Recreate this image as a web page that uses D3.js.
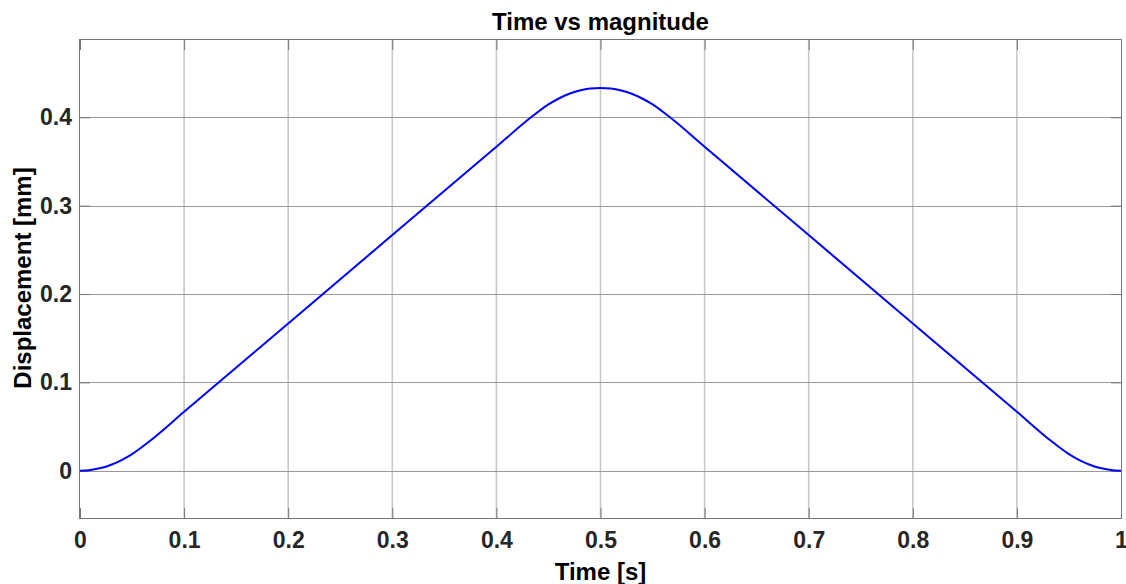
<!DOCTYPE html>
<html>
<head>
<meta charset="utf-8">
<script src="https://cdn.jsdelivr.net/npm/d3@7"></script>
<style>
    body { margin: 0; background: white; }
    text { font-family: Arial, "Liberation Sans", sans-serif; font-weight: bold; fill: #262626; }
</style>
</head>
<body>
<div id="chart"></div>
<script>
// Data
//
var timeValues = [
    0, 0.01, 0.02, 0.03, 0.04, 0.05, 0.0667, 0.1, 0.2, 0.3, 0.4, 0.4333,
    0.45, 0.46, 0.47, 0.48, 0.49, 0.5, 0.51, 0.52, 0.53, 0.54, 0.55,
    0.5667, 0.6, 0.7, 0.8, 0.9, 0.9333, 0.95, 0.96, 0.97, 0.98, 0.99, 1
];
var dispValues = [
    0, 0.0008, 0.003, 0.0068, 0.012, 0.0188, 0.0333, 0.0667, 0.1667, 0.2667, 0.3667, 0.4,
    0.4146, 0.4213, 0.4266, 0.4303, 0.4326, 0.4333, 0.4326, 0.4303, 0.4266, 0.4213, 0.4146,
    0.4, 0.3667, 0.2667, 0.1667, 0.0667, 0.0333, 0.0188, 0.012, 0.0068, 0.003, 0.0008, 0
];
var xTicks = [0, 0.1, 0.2, 0.3, 0.4, 0.5, 0.6, 0.7, 0.8, 0.9, 1];
var yTicks = [0, 0.1, 0.2, 0.3, 0.4];
var xDomain = [0, 1];
var yDomain = [-0.0535, 0.4875];

var svg_width  = 1126;
var svg_height = 584;

var x_box_min = 80;
var x_box_max = 1121;
var y_box_min = 40;
var y_box_max = 518;

var svg = d3.select("#chart").append("svg")
    .attr("width", svg_width)
    .attr("height", svg_height);

var x = d3.scaleLinear().domain(xDomain).range([x_box_min, x_box_max]);
var y = d3.scaleLinear().domain(yDomain).range([y_box_max, y_box_min]);

// Grid
//
svg.append("g").selectAll("line")
    .data(xTicks.slice(1, -1))
    .join("line")
    .attr("x1", d => x(d)).attr("x2", d => x(d))
    .attr("y1", y_box_min).attr("y2", y_box_max)
    .attr("stroke", "#c8c8c8")
    .attr("stroke-width", 1.6);

svg.append("g").selectAll("line")
    .data(yTicks)
    .join("line")
    .attr("x1", x_box_min).attr("x2", x_box_max)
    .attr("y1", d => Math.round(y(d)) + 0.5).attr("y2", d => Math.round(y(d)) + 0.5)
    .attr("stroke", "#999999")
    .attr("stroke-width", 1);

// Axes with inner ticks
//
var xAxisB = d3.axisBottom(x).tickValues(xTicks).tickSize(-10).tickPadding(14).tickFormat(d3.format("~g"));
var xAxisT = d3.axisTop(x).tickValues(xTicks).tickSize(-10).tickFormat("");
var yAxisL = d3.axisLeft(y).tickValues(yTicks).tickSize(-10).tickPadding(8).tickFormat(d3.format("~g"));
var yAxisR = d3.axisRight(y).tickValues(yTicks).tickSize(-10).tickFormat("");

function styleAxis(g) {
    g.selectAll(".domain").remove();
    g.selectAll(".tick line").attr("stroke", "#777777");
    g.selectAll(".tick text")
        .style("font-size", "23px")
        .style("font-family", "Arial, 'Liberation Sans', sans-serif")
        .style("font-weight", "bold")
        .attr("fill", "#262626");
}

svg.append("g").attr("transform", `translate(0,${y_box_max})`).call(xAxisB).call(styleAxis);
svg.append("g").attr("transform", `translate(0,${y_box_min})`).call(xAxisT).call(styleAxis);
svg.append("g").attr("transform", `translate(${x_box_min},0)`).call(yAxisL).call(styleAxis);
svg.append("g").attr("transform", `translate(${x_box_max},0)`).call(yAxisR).call(styleAxis);

// Box
//
svg.append("rect")
    .attr("x", x_box_min - 0.5)
    .attr("y", y_box_min - 0.5)
    .attr("width", x_box_max - x_box_min + 1)
    .attr("height", y_box_max - y_box_min + 1)
    .attr("fill", "none")
    .attr("stroke", "#777777")
    .attr("stroke-width", 1);

// Curve
//
var points = timeValues.map((t, i) => [t, dispValues[i]]);
var line = d3.line()
    .x(d => x(d[0]))
    .y(d => y(d[1]))
    .curve(d3.curveMonotoneX);

svg.append("path")
    .datum(points)
    .attr("d", line)
    .attr("fill", "none")
    .attr("stroke", "#0000ff")
    .attr("stroke-width", 2);

// Labels
//
svg.append("text")
    .attr("x", (x_box_min + x_box_max) / 2)
    .attr("y", 30)
    .attr("text-anchor", "middle")
    .style("font-size", "24px")
    .style("fill", "#000000")
    .text("Time vs magnitude");

svg.append("text")
    .attr("x", (x_box_min + x_box_max) / 2)
    .attr("y", 580)
    .attr("text-anchor", "middle")
    .style("font-size", "24px")
    .style("fill", "#000000")
    .text("Time [s]");

svg.append("text")
    .attr("transform", `translate(31,278) rotate(-90)`)
    .attr("text-anchor", "middle")
    .style("font-size", "24px")
    .style("fill", "#000000")
    .text("Displacement [mm]");
</script>
</body>
</html>
